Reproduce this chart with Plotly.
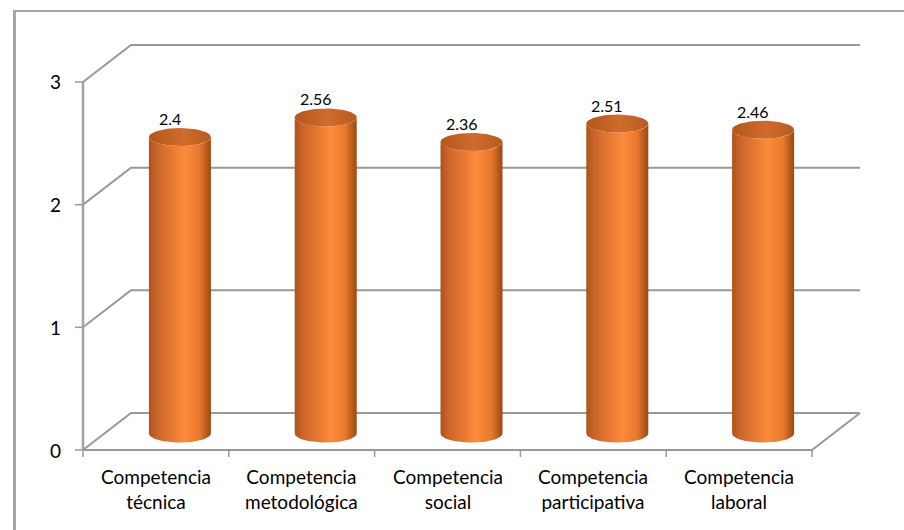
import numpy as np
import plotly.graph_objects as go

categories = ["Competencia<br>técnica", "Competencia<br>metodológica", "Competencia<br>social",
              "Competencia<br>participativa", "Competencia<br>laboral"]
values = [2.4, 2.56, 2.36, 2.51, 2.46]
y_ticks = [0, 1, 2, 3]

W, H = 904, 530
# pixel mapping for the front plane
X0PX, XPX = 83, 145.8   # x=0 at 83px, px per category
Y0PX, YPX = 450, 122.67  # v=0 at 450px, px per unit
xr = [-X0PX / XPX, (W - X0PX) / XPX]
yr = [-(H - Y0PX) / YPX, Y0PX / YPX]

DX = 48 / XPX   # depth offset in x units
DY = 37 / YPX   # depth offset in value units
n = len(categories)
vmax = max(y_ticks)

grid_color = "#999999"
fig = go.Figure()

def line(xs, ys, w=2, color=grid_color):
    fig.add_trace(go.Scatter(x=xs, y=ys, mode="lines", line=dict(color=color, width=w),
                             hoverinfo="skip", showlegend=False))

# back wall gridlines and left-wall diagonals
for v in y_ticks:
    line([0, DX, n + DX], [v, v + DY, v + DY])
# left front vertical edge
line([0, 0], [0, vmax], w=2.5, color="#a3a3a3")
# floor front edge and right diagonal
line([0, n, n + DX], [0, 0, DY])
# y tick marks
for v in y_ticks:
    line([-8 / XPX, 0], [v, v], w=1.5)
# category tick marks
for i in range(n + 1):
    line([i, i], [0, -7 / YPX], w=1.5)

# cylinders
a = 31 / XPX
b = 9 / YPX
th = np.linspace(0, np.pi, 40)
body_scale = [[0, "#ad521a"], [0.12, "#c9642a"], [0.58, "#fd8b3a"], [0.82, "#e8782e"], [0.93, "#b85a1c"], [1, "#9e4713"]]
top_scale = [[0, "#b3561d"], [0.55, "#d06c2c"], [1, "#b65b21"]]
for i, v in enumerate(values):
    cx = i + 0.5 + DX / 2
    base = DY / 2 - 2 / YPX
    top = v + DY / 2
    bx = list(cx + a * np.cos(th[::-1]))
    by = list(base - b * np.sin(th[::-1]))
    tx = list(cx + a * np.cos(th))
    ty = list(top - b * np.sin(th))
    fig.add_trace(go.Scatter(x=bx + tx + [bx[0]], y=by + ty + [by[0]], mode="lines", fill="toself",
                             line=dict(width=0, color="rgba(0,0,0,0)"),
                             fillgradient=dict(type="horizontal", colorscale=body_scale),
                             hoverinfo="skip", showlegend=False))
    t2 = np.linspace(0, 2 * np.pi, 80)
    fig.add_trace(go.Scatter(x=cx + a * np.cos(t2), y=top + b * np.sin(t2), mode="lines", fill="toself",
                             line=dict(width=0, color="rgba(0,0,0,0)"),
                             fillgradient=dict(type="horizontal", colorscale=top_scale),
                             hoverinfo="skip", showlegend=False))
    fig.add_annotation(x=cx - 10 / XPX, y=top + b - 2 / YPX, text=str(v), showarrow=False,
                       yanchor="bottom", xanchor="center",
                       font=dict(family="Lato", size=16, color="#000000"))

# category labels
for i, c in enumerate(categories):
    fig.add_annotation(x=i + 0.5, y=-13 / YPX, text=c, showarrow=False, yanchor="top",
                       xanchor="center", font=dict(family="Lato", size=19, color="#000000"))
# y tick labels
for v in y_ticks:
    fig.add_annotation(x=-20 / XPX, y=v, text=str(v), showarrow=False, xanchor="right",
                       yanchor="middle", font=dict(family="Lato", size=19, color="#000000"))

fig.update_layout(
    width=W, height=H, margin=dict(l=0, r=0, t=0, b=0),
    paper_bgcolor="white", plot_bgcolor="white",
    xaxis=dict(range=xr, visible=False, fixedrange=True),
    yaxis=dict(range=yr, visible=False, fixedrange=True),
    showlegend=False,
    shapes=[
        dict(type="line", xref="paper", yref="paper", x0=14.5 / W, x1=14.5 / W, y0=0, y1=1 - 10 / H,
             line=dict(color="#a6a6a6", width=3)),
        dict(type="line", xref="paper", yref="paper", x0=13 / W, x1=1, y0=1 - 11 / H, y1=1 - 11 / H,
             line=dict(color="#a6a6a6", width=2)),
    ],
)
fig.write_html("out.html")
